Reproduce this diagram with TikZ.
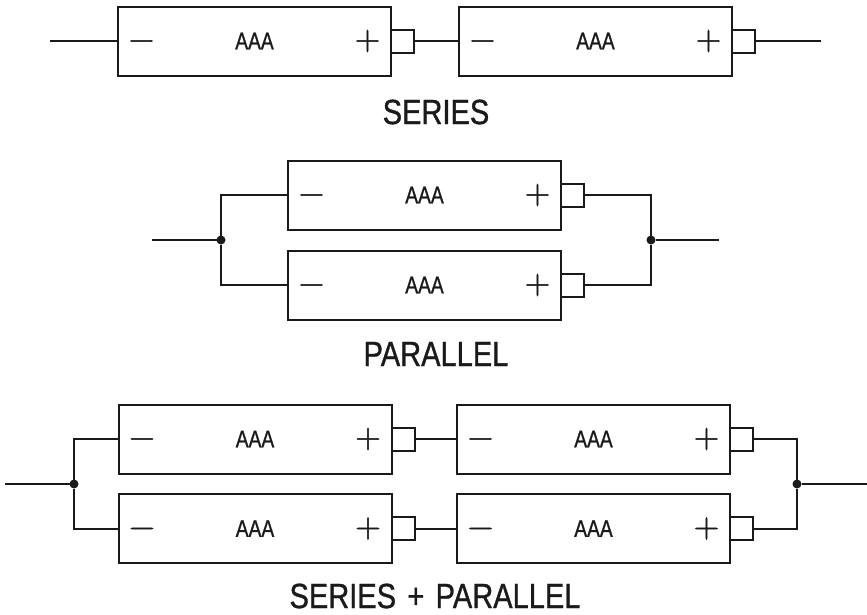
\documentclass[tikz,border=0pt]{standalone}
\usepackage{fontspec}
\setmainfont{Liberation Sans}
\newfontfamily\headfont[FakeStretch=0.83,FakeBold=0.9,WordSpace=1.4]{Liberation Sans}
\newfontfamily\labfont[FakeStretch=0.80,FakeBold=0.8]{Liberation Sans}
\newfontfamily\signfont[FakeBold=1.5]{Latin Modern Roman}
\definecolor{ink}{HTML}{1A1A1A}
\newcommand{\batt}[3]{%
 \node[casebox] (#1) at (#2,#3) {};
 \node[tipbox] (#1t) at (#1.east) {};
 \node[lab] (#1l) at (#2,#3) {AAA};
 \node[sign] (#1m) at (#2-113,#3) {\vphantom{+}\char"2212};
 \node[sign] (#1p) at (#2+113,#3) {+};
}
\begin{document}
\begin{tikzpicture}[x=1pt,y=-1pt,
 wire/.style={line width=2pt,draw=ink},
 casebox/.style={draw=ink,line width=2pt,fill=white,minimum width=273pt,minimum height=69pt,inner sep=0pt,outer sep=0pt},
 tipbox/.style={draw=ink,line width=2pt,minimum width=23pt,minimum height=23pt,inner sep=0pt,outer sep=0pt,anchor=west},
 dotn/.style={circle,fill=ink,minimum size=9pt,inner sep=0pt,outer sep=0pt},
 heading/.style={text=ink,font=\fontsize{35}{35}\headfont,inner sep=0pt},
 sign/.style={text=ink,font=\fontsize{35}{35}\signfont,inner sep=0pt},
 lab/.style={text=ink,font=\fontsize{24}{24}\labfont,inner sep=0pt}]
\useasboundingbox (0,0) rectangle (867,614);
\batt{a}{254.5}{41}
\batt{b}{595.5}{41}
\batt{c}{424.5}{195}
\batt{d}{424.5}{285}
\batt{e}{255}{439}
\batt{f}{593.5}{439}
\batt{g}{255}{528.5}
\batt{h}{593.5}{528.5}
% series
\coordinate (l1) at (50,41); \coordinate (r1) at (821,41);
\draw[wire] (l1) -- (a.west);
\draw[wire] (at.east) -- (b.west);
\draw[wire] (bt.east) -- (r1);
\node[heading] (s1) at (436,112) {SERIES};
% parallel
\node[dotn] (j1) at (221,240) {};
\node[dotn] (j2) at (651,240) {};
\coordinate (l2) at (152,240); \coordinate (r2) at (719,240);
\draw[wire] (l2) -- (j1);
\draw[wire] (j2) -- (r2);
\draw[wire] (c.west) -| (j1);
\draw[wire] (d.west) -| (j1);
\draw[wire] (ct.east) -| (j2);
\draw[wire] (dt.east) -| (j2);
\node[heading] (s2) at (436,354) {PARALLEL};
% series + parallel
\node[dotn] (j3) at (74,484) {};
\node[dotn] (j4) at (797,484) {};
\coordinate (l3) at (5,484); \coordinate (r3) at (867,484);
\draw[wire] (l3) -- (j3);
\draw[wire] (j4) -- (r3);
\draw[wire] (e.west) -| (j3);
\draw[wire] (g.west) -| (j3);
\draw[wire] (et.east) -- (f.west);
\draw[wire] (gt.east) -- (h.west);
\draw[wire] (ft.east) -| (j4);
\draw[wire] (ht.east) -| (j4);
\node[heading] (s3) at (435,596) {SERIES + PARALLEL};
\end{tikzpicture}
\end{document}
